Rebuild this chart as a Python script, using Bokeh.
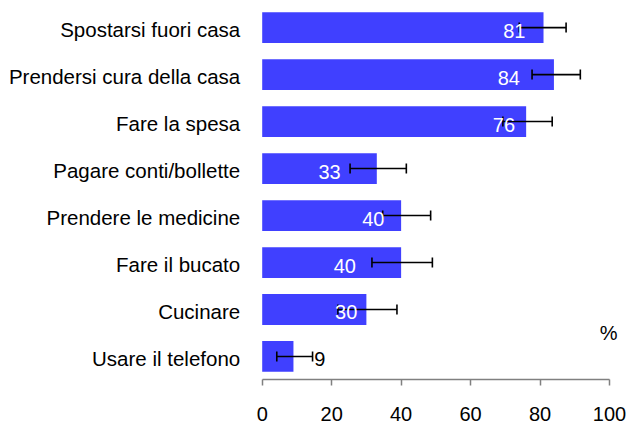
import math
from bokeh.plotting import figure
from bokeh.models import Range1d, FixedTicker, ColumnDataSource, Label
from bokeh.core.properties import value
from bokeh.embed import file_html
from bokeh.resources import INLINE

categories = ["Spostarsi fuori casa", "Prendersi cura della casa", "Fare la spesa",
              "Pagare conti/bollette", "Prendere le medicine", "Fare il bucato",
              "Cucinare", "Usare il telefono"]
values = [81, 84, 76, 33, 40, 40, 30, 9]
err_low = [74.0, 77.7, 69.3, 25.3, 34.7, 31.6, 21.8, 4.2]
err_high = [87.5, 91.6, 83.5, 41.5, 48.5, 49.0, 38.8, 14.5]
label_pos = [72.6, 71.0, 69.6, 19.4, 32.0, 23.8, 24.2, 16.6]
x_ticks = [0, 20, 40, 60, 80, 100]
unit_label = "%"

FONT = "Liberation Sans"
n = len(categories)
ypos = [n - i for i in range(n)]
label_colors = ["white" if lp < v else "black" for lp, v in zip(label_pos, values)]

src = ColumnDataSource(dict(
    y=ypos, v=values, lo=err_low, hi=err_high, lx=label_pos,
    lab=[str(v) for v in values], cat=categories, zero=[0] * n, lc=label_colors))

W, H = 626, 423
x0_px, x100_px = 261.7, 609.0
ppu = (x100_px - x0_px) / 100.0
xs = -x0_px / ppu
xe = xs + W / ppu

p = figure(width=W, height=H, x_range=Range1d(xs, xe), y_range=Range1d(0.51, 8.577),
           toolbar_location=None, output_backend="svg", y_axis_location=None,
           min_border_left=0, min_border_right=0, min_border_top=0)
p.outline_line_color = None
p.grid.visible = False
p.background_fill_color = "white"

p.hbar(y="y", left=0, right="v", height=0.655, source=src,
       fill_color="#4040FF", line_color=None)

# error bars (drawn beneath the value labels)
p.segment(x0="lo", y0="y", x1="hi", y1="y", source=src,
          line_color="black", line_width=1.6)
for col in ("lo", "hi"):
    p.scatter(x=col, y="y", source=src, marker="dash", angle=math.pi / 2,
              size=10, line_color="black", line_width=1.6)

p.text(x="lx", y="y", text="lab", source=src, text_color="lc",
       text_align="center", text_baseline="middle", y_offset=3,
       text_font=value(FONT), text_font_size="20px")

p.text(x="zero", y="y", text="cat", source=src, text_color="black",
       text_align="right", text_baseline="middle", x_offset=-22, y_offset=2,
       text_font=value(FONT), text_font_size="20.5px")

p.add_layout(Label(x=617, x_units="screen", y=1.5, text=unit_label,
                   text_align="right", text_baseline="middle",
                   text_font=FONT, text_font_size="20px", text_color="black"))

ax = p.xaxis[0]
ax.bounds = (0, 100)
ax.ticker = FixedTicker(ticks=x_ticks)
ax.minor_tick_line_color = None
ax.major_tick_in = 0
ax.major_tick_out = 6
ax.major_tick_line_color = "#808080"
ax.major_tick_line_width = 1.5
ax.axis_line_color = "#808080"
ax.axis_line_width = 1.5
ax.major_label_text_font = FONT
ax.major_label_text_font_size = "20px"
ax.major_label_text_color = "black"
ax.major_label_standoff = 21

open("out.html", "w").write(file_html(p, INLINE))
